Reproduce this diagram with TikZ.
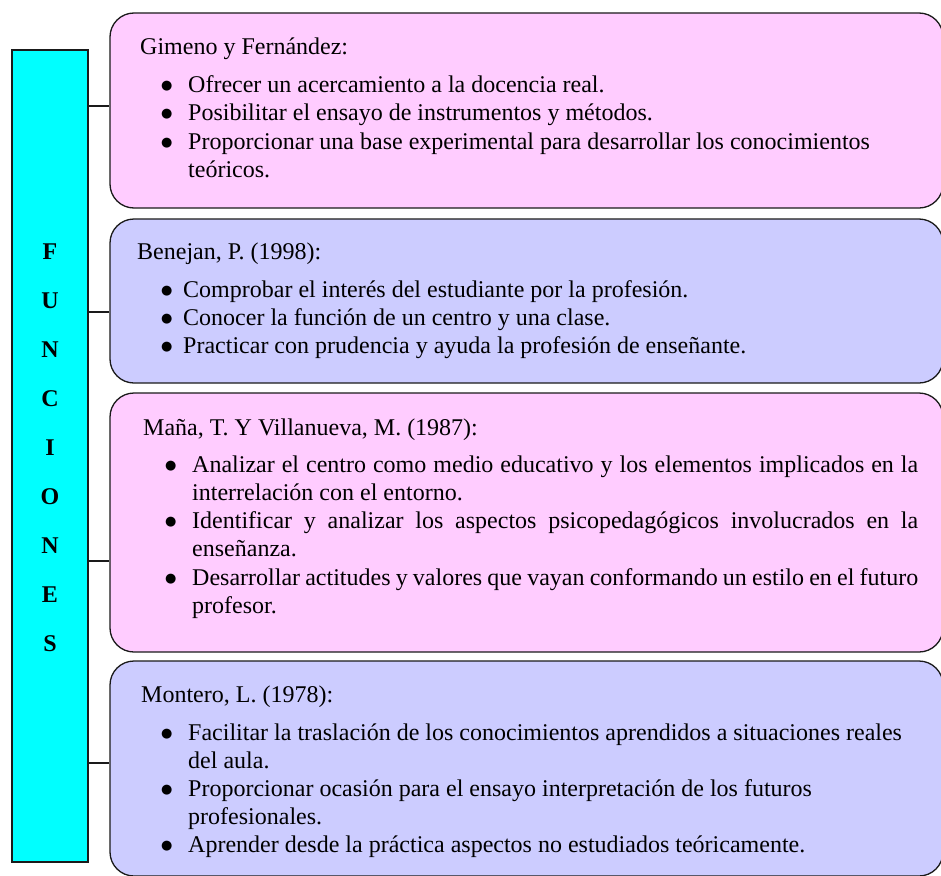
\documentclass[tikz,border=0pt]{standalone}
\usepackage{fontspec}
\setmainfont{Liberation Serif}
\newfontfamily\symfont{DejaVu Sans}
\definecolor{pinkbox}{HTML}{FFCCFF}
\definecolor{bluebox}{HTML}{CCCCFF}
\definecolor{cyanbox}{HTML}{00FFFF}
\definecolor{edgecol}{HTML}{1A1A1A}
\newlength\bulx
\newlength\txtx
\newcommand\bigbul{\raisebox{2.8pt}{\fontsize{13}{14}\selectfont\symfont ●}}
\newcommand\bulbox{\hspace*{\bulx}\makebox[\dimexpr\txtx-\bulx\relax][l]{\bigbul}}
\newcommand\itm[1]{\bulbox#1}
\newcommand\cnt[1]{\hspace*{\txtx}#1}
\newcommand\jitm[1]{\bulbox\makebox[726pt][s]{#1}}
\tikzset{
  panel/.style={draw=edgecol, line width=1.3pt, rounded corners=24pt, minimum width=833pt, inner sep=0pt},
  pinkpanel/.style={panel, fill=pinkbox},
  bluepanel/.style={panel, fill=bluebox},
  txt/.style={anchor=base west, inner sep=0pt, font=\fontsize{24}{28.5}\selectfont},
  link/.style={draw=edgecol, line width=1.3pt},
}
\begin{document}
\begin{tikzpicture}[x=1pt,y=-1pt]
\useasboundingbox (0,0) rectangle (941,875);
% left bar
\node[draw=edgecol, line width=1.3pt, fill=cyanbox, minimum width=76pt, minimum height=812pt, inner sep=0pt] (bar) at (50,456) {};
\node[font=\fontsize{24}{49}\selectfont\bfseries, align=center, inner sep=0pt] (lab) at (50,447.5) {F\\U\\N\\C\\I\\O\\N\\E\\S};
% panels
\node[pinkpanel, minimum height=195pt] (b1) at (526.5,110.5) {};
\node[bluepanel, minimum height=164pt] (b2) at (526.5,301) {};
\node[pinkpanel, minimum height=259pt] (b3) at (526.5,522.5) {};
\node[bluepanel, minimum height=215pt] (b4) at (526.5,768.5) {};
% connectors
\coordinate (k1) at (100,106);
\coordinate (k2) at (100,312);
\coordinate (k3) at (100,561);
\coordinate (k4) at (100,763);
\draw[link] (bar.east |- k1) -- (b1.west |- k1);
\draw[link] (bar.east |- k2) -- (b2.west |- k2);
\draw[link] (bar.east |- k3) -- (b3.west |- k3);
\draw[link] (bar.east |- k4) -- (b4.west |- k4);
% texts
\node[txt] (t1) at (140,55) {\setlength\bulx{21pt}\setlength\txtx{48pt}\parbox[t]{790pt}{\fontsize{24}{28.5}\selectfont
Gimeno y Fernández:\\[8.5pt]
\itm{Ofrecer un acercamiento a la docencia real.}\\
\itm{Posibilitar el ensayo de instrumentos y métodos.}\\
\itm{Proporcionar una base experimental para desarrollar los conocimientos}\\
\cnt{teóricos.}}};
\node[txt] (t2) at (137,259) {\setlength\bulx{24pt}\setlength\txtx{46pt}\parbox[t]{790pt}{\fontsize{24}{28}\selectfont
Benejan, P. (1998):\\[10pt]
\itm{Comprobar el interés del estudiante por la profesión.}\\
\itm{Conocer la función de un centro y una clase.}\\
\itm{Practicar con prudencia y ayuda la profesión de enseñante.}}};
\node[txt] (t3) at (143,435) {\setlength\bulx{22pt}\setlength\txtx{49pt}\parbox[t]{790pt}{\fontsize{24}{28.2}\selectfont
Maña, T. Y Villanueva, M. (1987):\\[9pt]
\jitm{Analizar el centro como medio educativo y los elementos implicados en la}\\
\cnt{interrelación con el entorno.}\\
\jitm{Identificar y analizar los aspectos psicopedagógicos involucrados en la}\\
\cnt{enseñanza.}\\
\jitm{Desarrollar actitudes y valores que vayan conformando un estilo en el futuro}\\
\cnt{profesor.}}};
\node[txt] (t4) at (141,702) {\setlength\bulx{20pt}\setlength\txtx{47pt}\parbox[t]{790pt}{\fontsize{24}{28}\selectfont
Montero, L. (1978):\\[10pt]
\itm{Facilitar la traslación de los conocimientos aprendidos a situaciones reales}\\
\cnt{del aula.}\\
\itm{Proporcionar ocasión para el ensayo interpretación de los futuros}\\
\cnt{profesionales.}\\
\itm{Aprender desde la práctica aspectos no estudiados teóricamente.}}};
\end{tikzpicture}
\end{document}
